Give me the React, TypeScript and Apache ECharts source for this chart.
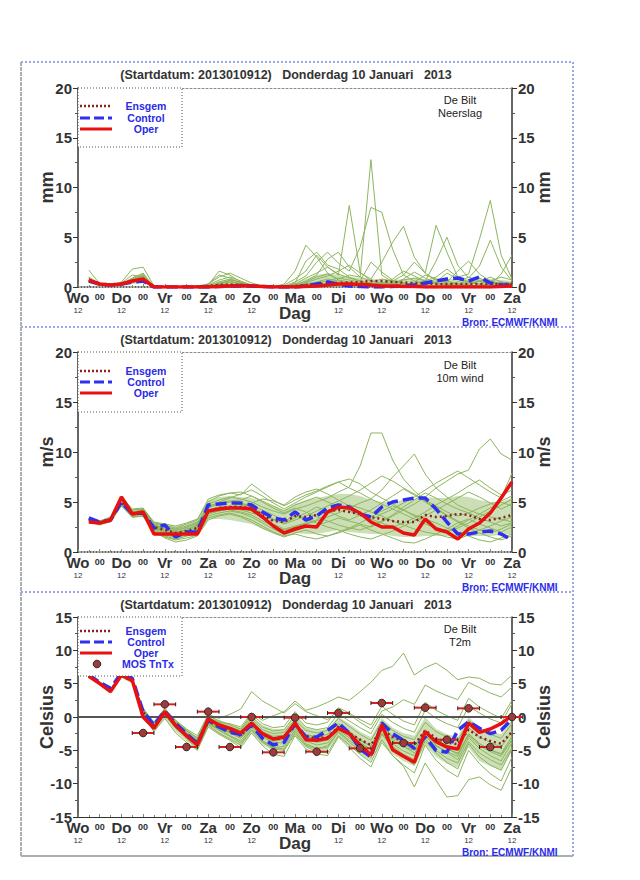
import React, { useEffect, useRef } from "react";
import * as echarts from "echarts";

// ---------- data ----------
const HOURS = [6,12,18,24,30,36,42,48,54,60,66,72,78,84,90,96,102,108,114,120,126,132,138,144,150,156,162,168,174,180,186,192,198,204,210,216,222,228,234,240];
const TICK_LABELS = ["Wo","00","Do","00","Vr","00","Za","00","Zo","00","Ma","00","Di","00","Wo","00","Do","00","Vr","00","Za"];
const SUB_LABELS = ["12","","12","","12","","12","","12","","","","12","","12","","12","","12","","12"];

// Precipitation (mm)
const PRECIP_OPER = [0.7,0.3,0.2,0.3, 0.6,0.8,0,0, 0,0,0,0, 0.05,0.1,0.15,0.1, 0.05,0,0,0, 0.05,0.1,0.2,0.3, 0.3,0.25,0.2,0.1, 0.1,0.05,0.05,0, 0,0,0,0, 0,0,0.05,0.1];
const PRECIP_CTRL = [0.6,0.3,0.2,0.3, 0.5,0.6,0,0, 0,0,0,0, 0.05,0.1,0.1,0.1, 0.05,0,0,0, 0.1,0.3,0.5,0.3, 0.1,0.05,0,0, 0.05,0.1,0.2,0.4, 0.6,0.8,0.9,0.6, 1.0,0.4,0.2,0.2];
const PRECIP_MEAN = [0.7,0.3,0.2,0.3, 0.6,0.7,0.05,0, 0,0,0.05,0.1, 0.2,0.25,0.2,0.1, 0.05,0.05,0.05,0.1, 0.2,0.3,0.35,0.4, 0.45,0.5,0.6,0.6, 0.5,0.45,0.4,0.35, 0.3,0.3,0.3,0.3, 0.3,0.3,0.3,0.3];
const PRECIP_MEMBERS = [
  [0.8,0.2,0.1,0.3, 0.9,1.4,0,0, 0,0,0,0.1, 0.4,0.6,0.3,0.1, 0,0,0,0.2, 0.5,1.0,1.3,0.8, 1.2,1.0,12.8,1.2, 0.5,0.3,0.2,0.4, 0.8,0.6,0.3,0.2, 0.1,0.3,0.5,0.4],
  [1.7,0.3,0.2,0.4, 1.2,1.0,0,0, 0,0,0.1,0.3, 1.0,1.4,0.9,0.4, 0.1,0,0.2,0.8, 1.6,3.2,2.0,1.2, 8.2,1.5,0.6,0.4, 0.3,0.8,1.5,0.9, 0.4,0.2,0.1,0.2, 0.6,1.0,0.5,0.3],
  [0.6,0.2,0.2,0.5, 1.8,2.0,0.1,0, 0,0,0,0.2, 0.7,1.0,0.6,0.2, 0,0,0.1,0.5, 1.1,2.5,3.5,2.4, 1.6,4.0,8.0,7.5, 3.8,1.2,0.6,0.4, 0.3,0.2,0.5,1.0, 0.6,0.3,0.2,0.1],
  [0.7,0.2,0.1,0.2, 0.6,1.1,0,0, 0,0,0,0, 0.3,0.5,0.3,0.1, 0,0,0,0.1, 0.4,0.8,1.1,1.6, 2.2,1.4,0.8,2.5, 4.5,6.1,3.0,1.4, 0.7,0.4,0.3,0.6, 0.9,0.4,0.2,0.1],
  [0.9,0.3,0.1,0.3, 0.8,1.3,0,0, 0,0,0,0.2, 1.6,1.2,0.5,0.2, 0,0,0,0.3, 0.9,1.4,2.0,1.3, 0.9,0.6,0.4,0.3, 0.6,1.2,2.5,1.4, 6.2,3.5,1.0,0.5, 0.3,0.6,1.0,0.7],
  [0.5,0.2,0.1,0.2, 0.5,0.8,0,0, 0,0,0,0, 0.2,0.3,0.2,0, 0,0,0,0.1, 0.3,0.5,0.8,0.6, 0.4,0.3,0.5,0.8, 0.6,0.4,0.3,0.6, 1.0,1.8,1.0,1.3, 4.8,8.7,3.2,0.8],
  [1.0,0.3,0.2,0.3, 0.7,1.1,0,0, 0,0,0,0.1, 0.5,0.8,0.4,0.1, 0,0,0.3,1.6, 4.2,3.0,1.4,0.7, 0.5,0.3,0.2,0.4, 0.3,0.2,0.5,1.2, 0.8,0.5,1.6,2.6, 1.3,0.6,0.3,0.2],
  [0.6,0.2,0.1,0.2, 0.6,0.9,0,0, 0,0,0,0.1, 0.3,0.7,0.5,0.2, 0,0,0,0.2, 0.6,1.2,2.8,3.5, 2.0,1.0,0.6,0.4, 0.8,1.6,1.1,0.6, 2.6,5.0,2.2,0.9, 2.1,4.7,2.0,0.6],
  [0.8,0.2,0.1,0.3, 0.7,1.2,0,0, 0,0,0,0.3, 1.2,0.9,0.4,0.1, 0,0,0,0.4, 2.6,3.5,2.2,1.8, 1.0,0.6,2.5,1.5, 0.7,0.4,0.3,0.2, 0.5,1.4,0.8,0.5, 0.3,0.2,1.3,3.2],
  [0.6,0.2,0.1,0.2, 0.5,0.7,0,0, 0,0,0,0, 0.1,0.2,0.1,0, 0,0,0,0.1, 0.2,0.4,0.6,0.9, 0.7,0.5,0.3,0.2, 0.4,0.7,0.9,0.6, 0.4,0.3,0.2,0.4, 0.6,0.5,0.3,0.2],
];
const PRECIP_CORE_LOW = [0.4,0.1,0.1,0.1, 0.3,0.4,0,0, 0,0,0,0, 0,0,0,0, 0,0,0,0, 0,0,0,0, 0,0,0,0, 0,0,0,0, 0,0,0,0, 0,0,0,0];
const PRECIP_CORE_HIGH = [1.0,0.3,0.2,0.4, 0.9,1.2,0.05,0, 0,0,0,0.2, 0.6,0.8,0.5,0.2, 0.05,0.05,0.1,0.4, 0.8,1.2,1.4,1.2, 1.0,0.9,0.8,0.7, 0.7,0.8,0.9,0.8, 0.7,0.8,0.8,0.8, 0.8,0.8,0.7,0.6];

// 10m wind (m/s)
const WIND_OPER = [3.0,2.9,3.2,5.5, 3.8,4.0,1.8,1.8, 1.8,1.8,1.8,4.1, 4.3,4.4,4.4,4.3, 3.5,2.6,1.9,2.3, 2.6,2.5,4.0,4.5, 4.4,3.9,3.0,2.5, 2.5,1.9,1.7,3.3, 2.3,2.0,1.3,2.3, 2.9,3.9,5.4,7.0];
const WIND_CTRL = [3.4,3.0,3.2,5.0, 3.8,3.9,2.4,2.7, 1.5,2.0,2.0,4.7, 4.8,4.9,4.9,4.7, 4.0,3.4,3.2,4.0, 3.2,3.6,4.4,4.7, 4.5,3.8,3.5,4.5, 5.0,5.2,5.4,5.4, 4.3,3.0,1.8,1.8, 2.0,2.1,1.8,1.2];
const WIND_MEAN = [3.2,2.9,3.2,5.0, 3.8,3.9,2.5,2.2, 1.9,2.1,2.4,4.1, 4.4,4.5,4.5,4.4, 3.7,3.1,3.0,3.6, 3.5,3.7,4.1,4.2, 4.0,3.8,3.5,3.3, 3.1,3.0,3.0,3.7, 3.5,3.6,3.8,3.7, 3.3,3.2,3.4,3.7];
const WIND_MEMBERS = [
  [3.3,3.0,3.4,5.2, 4.0,4.2,2.8,2.6, 2.2,2.4,2.9,4.8, 5.2,5.5,5.3,5.0, 4.5,4.1,3.8,4.3, 4.6,5.0,5.4,6.0, 6.5,8.6,11.9,11.9, 9.2,7.3,6.1,5.2, 4.6,4.0,3.6,3.9, 4.4,4.8,5.1,5.6],
  [3.1,2.8,3.0,4.6, 3.5,3.6,2.0,1.6, 1.3,1.6,1.9,3.6, 3.9,4.1,3.9,3.5, 2.9,2.3,1.8,2.1, 2.5,2.7,3.0,3.4, 3.1,2.8,2.5,3.0, 3.6,4.2,4.8,5.5, 6.4,7.1,7.8,8.2, 10.3,11.3,9.8,9.2],
  [3.4,3.1,3.5,5.6, 4.3,4.4,3.0,2.8, 2.6,2.9,3.3,5.0, 5.6,5.9,5.7,6.8, 6.0,5.2,4.6,5.2, 5.7,6.1,6.6,7.0, 6.4,5.9,5.3,6.2, 7.5,8.6,9.8,7.8, 6.4,5.5,4.7,4.2, 3.8,3.5,3.3,3.0],
  [3.2,2.9,3.2,5.0, 3.7,3.9,2.3,1.9, 1.6,1.8,2.2,4.2, 4.5,4.6,4.4,4.1, 3.4,2.8,2.3,2.6, 2.9,3.2,3.8,4.3, 4.7,4.4,4.0,3.6, 3.1,2.7,2.3,2.0, 1.8,1.5,1.3,1.7, 2.2,2.6,3.1,3.5],
  [3.0,2.7,3.1,4.8, 3.6,3.8,2.5,2.2, 1.9,2.3,2.6,3.8, 4.1,4.3,4.6,4.9, 5.3,5.1,4.7,5.5, 6.0,6.3,5.8,5.2, 4.6,3.9,3.3,2.9, 2.5,2.9,3.4,4.0, 4.7,5.3,5.9,6.6, 7.2,6.4,5.7,6.2],
  [3.3,3.0,3.3,5.4, 4.1,4.0,2.1,1.4, 1.0,1.2,1.6,3.2, 3.6,3.8,3.5,3.0, 2.4,1.9,1.5,1.9, 2.2,1.8,1.6,2.0, 2.4,2.9,3.5,4.1, 4.6,4.2,3.7,3.3, 2.9,2.4,2.0,1.6, 1.2,1.0,1.4,1.8],
  [3.1,2.9,3.3,5.1, 3.9,4.3,2.7,2.4, 2.1,2.5,2.8,4.6, 4.9,5.1,5.2,5.6, 5.0,4.4,3.9,4.4, 4.0,3.5,3.1,2.7, 2.4,2.2,2.6,3.1, 3.7,4.5,5.2,5.9, 5.4,4.8,4.3,3.9, 3.4,3.0,2.6,2.9],
  [3.2,2.8,3.1,4.9, 3.8,3.7,2.2,1.7, 1.5,1.9,2.4,4.0, 4.3,4.5,4.8,4.5, 3.9,3.3,2.8,3.2, 3.6,4.1,4.6,5.1, 5.6,6.2,6.9,7.6, 7.1,6.4,5.8,5.1, 4.4,3.7,3.1,2.6, 2.2,1.9,2.3,2.8],
  [3.4,3.1,3.4,5.3, 4.0,4.1,2.6,2.3, 2.0,2.2,2.7,4.4, 4.8,5.0,4.9,4.6, 4.2,3.7,3.1,3.6, 3.3,2.9,2.5,2.2, 1.8,1.5,1.3,1.7, 2.1,2.6,3.1,3.6, 4.2,4.8,5.4,6.0, 5.5,4.9,4.3,4.8],
  [3.0,2.8,3.0,4.7, 3.5,3.6,1.9,1.5, 1.2,1.4,1.7,3.4, 3.7,3.9,3.6,3.2, 2.6,2.0,1.6,1.8, 1.5,1.3,1.6,1.9, 2.3,2.7,2.2,1.8, 1.4,1.0,0.9,1.3, 1.8,2.3,2.9,3.3, 2.8,2.4,2.0,2.5],
  [3.3,3.0,3.2,5.2, 3.9,3.9,2.4,2.0, 1.8,2.1,2.5,4.5, 5.0,5.4,5.8,6.2, 5.6,4.9,4.3,4.9, 5.5,6.0,6.5,7.0, 7.3,6.8,6.0,5.4, 4.8,4.2,3.6,3.0, 2.5,2.1,2.6,3.2, 3.8,4.4,5.0,4.6],
  [3.1,2.9,3.2,5.0, 3.7,3.9,2.6,2.5, 2.3,2.6,3.0,4.1, 4.4,4.2,4.0,3.7, 3.1,2.6,2.2,2.5, 2.8,3.1,3.5,3.9, 4.4,4.9,5.3,4.8, 4.3,3.8,3.3,2.8, 2.4,2.0,2.4,2.9, 3.5,4.1,4.7,5.3],
  [3.2,3.0,3.3,5.1, 3.8,4.0,2.4,2.1, 1.7,2.0,2.3,3.9, 4.1,4.4,4.2,3.9, 3.6,3.2,2.9,3.4, 3.9,4.5,4.1,3.6, 3.2,3.7,4.2,4.9, 5.6,6.3,5.7,5.0, 4.3,3.6,3.0,2.4, 1.9,1.5,1.2,1.6],
  [3.3,3.0,3.4,5.5, 4.2,4.3,2.9,2.7, 2.4,2.8,3.2,5.3, 5.7,5.9,6.0,5.6, 5.1,4.6,4.1,4.7, 5.1,5.5,5.0,4.6, 4.1,3.6,3.2,3.8, 4.3,4.9,5.5,6.2, 6.9,7.5,8.1,7.4, 6.7,6.0,5.4,7.9],
];
const WIND_CORE_LOW = [3.0,2.7,3.0,4.6, 3.4,3.5,1.9,1.5, 1.2,1.5,1.8,3.3, 3.3,3.2,3.0,2.8, 2.3,1.9,1.6,1.9, 1.8,1.8,2.0,2.2, 2.0,1.9,1.8,1.8, 1.6,1.5,1.5,1.6, 1.6,1.6,1.5,1.6, 1.6,1.6,1.7,1.8];
const WIND_CORE_HIGH = [3.4,3.1,3.5,5.6, 4.3,4.4,3.0,2.8, 2.6,2.8,3.2,5.2, 5.5,5.6,5.5,5.4, 5.0,4.6,4.2,4.8, 5.2,5.4,5.6,5.8, 5.8,5.6,5.2,5.0, 5.0,5.2,5.3,5.5, 5.4,5.4,5.6,5.5, 5.2,5.0,5.0,5.4];

// 2m temperature (Celsius)
const TEMP_OPER = [6.1,5.0,3.8,6.3, 5.5,0.0,-1.7,0.8, -1.3,-2.8,-4.2,-0.3, -1.2,-1.7,-2.4,-0.9, -2.5,-3.3,-3.0,-0.9, -3.4,-3.5,-3.2,-1.7, -2.5,-4.2,-5.7,-1.2, -4.9,-5.9,-6.8,-2.2, -3.7,-4.5,-4.8,-0.9, -2.3,-1.8,-1.0,0.2];
const TEMP_CTRL = [6.3,5.2,4.3,6.6, 5.8,0.8,-1.2,0.9, -1.0,-2.5,-4.0,-0.5, -1.5,-2.3,-2.6,-1.2, -3.2,-4.2,-3.8,-1.0, -3.0,-3.0,-2.0,-0.9, -2.4,-4.8,-6.0,-0.9, -2.5,-3.5,-4.7,-3.0, -5.0,-5.3,-2.0,-0.7, -1.7,-2.5,-2.0,-0.3];
const TEMP_MEAN = [6.2,5.1,4.0,6.2, 5.4,0.8,-1.3,0.6, -1.2,-2.7,-3.8,-0.6, -1.5,-2.1,-2.8,-1.0, -2.6,-3.3,-3.2,-1.2, -2.9,-3.2,-3.0,-1.5, -2.4,-3.4,-4.2,-1.8, -3.0,-3.6,-4.2,-2.0, -3.2,-3.8,-4.1,-1.9, -3.0,-3.6,-4.0,-2.2];
const TEMP_MEMBERS = [
  [6.2,5.2,4.1,6.5, 5.6,1.2,-0.8,1.3, -0.6,-2.0,-3.2,0.2, -0.6,-1.2,-1.8,0.4, -1.0,-1.6,-1.4,0.8, -0.9,-1.2,-0.8,1.4, 0.6,-0.4,-1.2,1.6, 0.4,-0.6,-1.2,2.2, 1.0,0.2,-0.5,2.8, 1.5,0.6,-0.2,2.5],
  [6.0,4.9,3.7,6.0, 5.2,0.3,-2.2,-0.2, -2.4,-3.8,-5.0,-1.5, -2.6,-3.5,-4.6,-2.4, -4.3,-5.6,-5.9,-2.8, -4.8,-5.5,-5.8,-3.0, -4.6,-6.2,-7.5,-3.8, -5.8,-7.2,-8.4,-4.2, -6.5,-8.0,-9.0,-5.0, -7.0,-8.5,-9.6,-6.0],
  [6.1,5.0,3.9,6.2, 5.4,0.9,-1.4,1.0, -1.0,-2.4,-3.6,-0.2, -0.8,-1.0,-1.5,0.6, -0.5,0.2,0.8,2.4, 1.0,1.5,2.2,3.0, 2.5,3.8,5.2,7.0, 7.6,9.6,6.3,7.4, 8.1,7.0,5.6,6.0, 5.8,5.0,4.8,6.3],
  [6.3,5.3,4.2,6.4, 5.5,1.0,-1.0,1.2, -0.5,-1.8,-2.8,0.4, -0.2,0.4,1.2,3.8, 2.4,1.5,0.6,2.0, 0.8,0.2,-0.4,1.0, 0.4,-0.8,-1.8,0.9, 1.5,2.6,1.9,4.8, 3.9,3.2,2.6,5.2, 4.4,3.6,3.0,4.5],
  [6.1,5.1,3.9,6.3, 5.4,0.5,-1.8,0.5, -1.5,-3.0,-4.4,-0.9, -1.8,-2.4,-3.2,-1.4, -3.0,-3.8,-3.9,-1.7, -3.6,-4.2,-3.9,-2.0, -3.1,-4.3,-5.4,-2.4, -4.0,-5.1,-5.8,-2.9, -4.4,-5.2,-5.9,-2.6, -4.0,-5.0,-5.6,-3.4],
  [6.2,5.0,3.8,6.1, 5.3,0.7,-1.3,0.6, -1.2,-2.6,-3.8,-0.4, -1.3,-1.9,-2.5,-0.7, -2.2,-2.9,-2.7,-0.8, -2.6,-3.0,-2.6,-1.0, -2.2,-3.4,-4.3,-1.4, -2.9,-3.8,-4.4,-1.9, -3.4,-4.2,-4.8,-1.6, -3.0,-3.8,-4.5,-2.2],
  [6.0,4.9,3.6,6.2, 5.5,1.1,-1.1,0.9, -0.9,-2.3,-3.4,-0.7, -1.9,-2.8,-3.6,-1.6, -3.5,-4.6,-4.8,-2.3, -4.2,-4.8,-4.3,-2.3, -3.8,-5.0,-6.1,-2.6, -4.6,-6.0,-7.2,-3.6, -5.4,-6.8,-7.8,-4.0, -6.0,-7.2,-8.0,-4.8],
  [6.3,5.2,4.0,6.4, 5.6,0.9,-1.5,0.7, -1.4,-2.9,-4.0,-0.5, -1.5,-2.2,-2.9,-1.1, -2.8,-3.6,-3.4,-1.4, -3.3,-3.8,-3.5,-1.8, -2.8,-3.9,-4.8,-2.0, -3.6,-4.5,-5.0,-2.5, -3.9,-4.8,-5.4,-2.8, -4.3,-5.2,-5.9,-3.3],
  [6.1,5.1,3.9,6.2, 5.3,0.6,-1.6,0.4, -1.6,-3.2,-4.8,-1.2, -2.4,-3.3,-4.2,-2.0, -3.8,-4.8,-5.0,-2.6, -4.4,-5.2,-5.4,-2.8, -4.2,-5.6,-6.8,-3.4, -5.8,-7.4,-10.5,-6.9, -9.5,-12.0,-11.8,-9.4, -9.0,-10.2,-11.0,-7.5],
  [6.2,5.1,4.0,6.3, 5.4,0.8,-1.2,0.9, -1.1,-2.5,-3.5,-0.3, -1.1,-1.7,-2.2,-0.3, -1.9,-2.5,-2.3,-0.4, -2.0,-2.4,-2.0,-0.2, -1.4,-2.6,-3.5,-0.6, -2.0,-2.9,-3.4,-0.8, -2.2,-3.0,-3.6,-0.5, -1.8,-2.6,-3.2,-1.0],
  [6.0,5.0,3.8,6.2, 5.4,0.4,-1.9,0.3, -1.7,-3.1,-4.2,-0.8, -1.7,-2.3,-3.0,-1.3, -2.6,-3.2,-3.1,-1.2, -2.9,-3.4,-3.0,-1.5, -2.6,-3.8,-4.9,-1.9, -3.4,-4.4,-5.4,-2.7, -4.2,-5.3,-6.4,-3.1, -4.7,-5.8,-6.6,-3.8],
  [6.2,5.1,4.1,6.4, 5.7,1.3,-0.9,1.2, -0.7,-2.1,-3.1,0.0, -0.9,-1.5,-2.0,0.1, -1.5,-2.1,-1.9,0.3, -1.5,-1.9,-1.6,0.5, -0.6,-1.6,-2.5,0.4, -0.8,-1.7,-2.3,1.0, -0.2,-1.0,-1.6,1.6, 0.6,-0.3,-0.9,2.0],
  [6.1,5.0,3.9,6.3, 5.5,0.8,-1.4,0.6, -1.2,-2.7,-3.9,-0.6, -1.4,-2.1,-2.8,-1.0, -2.4,-3.1,-2.9,-1.1, -2.8,-3.3,-3.1,-1.3, -2.4,-3.5,-4.4,-1.6, -3.1,-4.1,-4.9,-2.2, -3.7,-4.7,-5.6,-2.5, -4.0,-4.9,-5.5,-2.9],
  [6.3,5.2,3.9,6.3, 5.3,0.6,-1.7,0.4, -1.5,-3.0,-4.6,-1.0, -2.0,-2.9,-3.9,-1.9, -3.7,-4.6,-4.4,-2.0, -4.0,-4.7,-4.6,-2.2, -3.5,-4.6,-5.6,-2.6, -4.4,-5.6,-6.4,-3.3, -5.0,-6.2,-6.9,-3.7, -5.4,-6.4,-7.2,-4.6],
];
const TEMP_CORE_LOW = [5.9,4.8,3.6,5.9, 5.0,0.0,-2.2,-0.2, -2.2,-3.6,-5.0,-1.5, -2.6,-3.4,-4.4,-2.4, -4.2,-5.0,-5.0,-2.6, -4.6,-5.2,-5.0,-3.0, -4.4,-5.6,-6.6,-3.6, -5.6,-6.6,-7.4,-4.2, -6.0,-7.0,-7.6,-4.6, -6.6,-7.4,-8.0,-5.0];
const TEMP_CORE_HIGH = [6.4,5.3,4.3,6.6, 5.8,1.4,-0.6,1.3, -0.4,-1.8,-3.0,0.3, -0.4,-1.0,-1.6,0.0, -1.2,-1.8,-1.8,0.2, -1.6,-2.0,-1.8,0.0, -1.0,-2.2,-3.0,-0.2, -1.6,-2.4,-2.8,0.0, -1.8,-2.6,-3.0,0.0, -1.6,-2.2,-2.6,-0.4];

// MOS TnTx
const MOS_HOURS = [24,36,48,60,72,84,96,108,120,132,144,156,168,180,192,204,216,228,240];
const MOS_VALUES = [7.0,-2.4,1.9,-4.5,0.8,-4.5,0.0,-5.3,-0.1,-5.2,0.6,-4.7,2.1,-3.9,1.4,-3.4,1.3,-4.5,0.0];

// ---------- styling ----------
const FONT = "Liberation Sans, Arial, sans-serif";
const GREEN = "#8db55e";
const BAND = "rgba(141,181,94,0.45)";
const C_MEAN = "#8a2222";
const C_CTRL = "#2f2ff0";
const C_OPER = "#e81010";
const TEXT = "#333333";
const BLUE_TXT = "#2a2ae8";

const PANELS = [
  { top: 88, height: 199, min: 0, max: 20, name: "mm", info: "Neerslag", titleY: 75, infoY: 100,
    legBottom: 147, legYs: [106, 118, 129], bronY: 322, dottedAxis: true,
    oper: PRECIP_OPER, ctrl: PRECIP_CTRL, mean: PRECIP_MEAN, members: PRECIP_MEMBERS,
    coreLow: PRECIP_CORE_LOW, coreHigh: PRECIP_CORE_HIGH },
  { top: 352, height: 200, min: 0, max: 20, name: "m/s", info: "10m wind", titleY: 340, infoY: 365,
    legBottom: 412, legYs: [371, 382, 393], bronY: 587, dottedAxis: true,
    oper: WIND_OPER, ctrl: WIND_CTRL, mean: WIND_MEAN, members: WIND_MEMBERS,
    coreLow: WIND_CORE_LOW, coreHigh: WIND_CORE_HIGH },
  { top: 617, height: 200, min: -15, max: 15, name: "Celsius", info: "T2m", titleY: 605, infoY: 629,
    legBottom: 676, legYs: [631, 642, 653, 664], bronY: 852, dottedAxis: false,
    oper: TEMP_OPER, ctrl: TEMP_CTRL, mean: TEMP_MEAN, members: TEMP_MEMBERS,
    coreLow: TEMP_CORE_LOW, coreHigh: TEMP_CORE_HIGH },
];

const pairs = (arr: number[]) => HOURS.map((h, i) => [h, arr[i]]);

function buildOption() {
  const grid: any[] = [];
  const xAxis: any[] = [];
  const yAxis: any[] = [];
  const series: any[] = [];
  const graphic: any[] = [];

  const yBase = (p: any, i: number) => ({
    type: "value", gridIndex: i, min: p.min, max: p.max, interval: 5,
    axisLine: { show: true, onZero: false, lineStyle: { color: "#333", width: 1.5 } },
    axisTick: { show: true, length: 5, lineStyle: { color: "#333" } },
    minorTick: { show: true, splitNumber: 2, length: 3, lineStyle: { color: "#555" } },
    splitLine: { show: false },
    axisLabel: { fontFamily: FONT, fontSize: 15, fontWeight: "bold", color: TEXT, margin: 6 },
  });

  PANELS.forEach((p, i) => {
    grid.push({ left: 78, width: 434, top: p.top, height: p.height, containLabel: false });
    xAxis.push({
      type: "value", gridIndex: i, min: 0, max: 240, interval: 12, position: "bottom",
      axisLine: { onZero: false, lineStyle: { color: "#333", width: p.dottedAxis ? 1.5 : 1.2, type: p.dottedAxis ? [1, 2] : "solid" } },
      axisTick: { show: true, inside: true, length: 3, lineStyle: { color: "#6e9a50" } },
      minorTick: { show: true, splitNumber: 2, length: 2, lineStyle: { color: "#6e9a50" } },
      splitLine: { show: false },
      axisLabel: {
        margin: 3,
        formatter: (v: number) => {
          const k = Math.round(v / 12);
          const lab = TICK_LABELS[k];
          if (k % 2 === 0) {
            return SUB_LABELS[k] ? `{d|${lab}}\n{h|${SUB_LABELS[k]}}` : `{d|${lab}}`;
          }
          return `{z|${lab}}`;
        },
        rich: {
          d: { fontFamily: FONT, fontSize: 15, fontWeight: "bold", color: TEXT, lineHeight: 15 },
          z: { fontFamily: FONT, fontSize: 9, fontWeight: "bold", color: TEXT, lineHeight: 13 },
          h: { fontFamily: FONT, fontSize: 8, color: TEXT, lineHeight: 11 },
        },
      },
      name: "Dag", nameLocation: "middle", nameGap: 18, nameMoveOverlap: false,
      nameTextStyle: { fontFamily: FONT, fontSize: 17, fontWeight: "bold", color: TEXT },
    });
    yAxis.push({ ...yBase(p, i), position: "left" });
  });
  PANELS.forEach((p, i) => {
    xAxis.push({
      type: "value", gridIndex: i, min: 0, max: 240, position: "top",
      axisLine: { show: true, onZero: false, lineStyle: { color: "#8a8a8a", type: [2, 2], width: 1 } },
      axisTick: { show: false }, axisLabel: { show: false }, splitLine: { show: false },
    });
    yAxis.push({ ...yBase(p, i), position: "right" });
  });

  PANELS.forEach((p, i) => {
    // dense core of the ensemble (filled polygon between core low and high)
    series.push({
      type: "custom", name: `core${i}`, xAxisIndex: i, yAxisIndex: i, z: 1, silent: true,
      data: [[0, 0]], encode: { x: 0, y: 1 },
      renderItem: (_params: any, api: any) => {
        const pts: number[][] = [];
        HOURS.forEach((h, k) => pts.push(api.coord([h, p.coreHigh[k]])));
        for (let k = HOURS.length - 1; k >= 0; k--) pts.push(api.coord([HOURS[k], p.coreLow[k]]));
        return { type: "polygon", shape: { points: pts }, style: { fill: BAND } };
      },
    });
    p.members.forEach((m, j) => {
      series.push({
        type: "line", name: `member${i}_${j}`, xAxisIndex: i, yAxisIndex: i, data: pairs(m),
        symbol: "none", lineStyle: { color: GREEN, width: 1 }, z: 2, silent: true,
      });
    });
    if (i === 2) {
      series.push({
        type: "line", xAxisIndex: i, yAxisIndex: i, data: [[0, 0], [240, 0]], symbol: "none",
        lineStyle: { color: "#555", width: 2 }, z: 3, silent: true,
      });
    }
    series.push({
      type: "line", name: "Ensgem", xAxisIndex: i, yAxisIndex: i, data: pairs(p.mean), symbol: "none",
      lineStyle: { color: C_MEAN, width: 2.5, type: [2, 3] }, z: 4,
    });
    series.push({
      type: "line", name: "Control", xAxisIndex: i, yAxisIndex: i, data: pairs(p.ctrl), symbol: "none",
      lineStyle: { color: C_CTRL, width: 3.5, type: [11, 5] }, z: 5,
    });
    series.push({
      type: "line", name: "Oper", xAxisIndex: i, yAxisIndex: i, data: pairs(p.oper), symbol: "none",
      lineStyle: { color: C_OPER, width: 3.5 }, z: 6,
    });
  });

  series.push({
    type: "custom", name: "MOS TnTx", xAxisIndex: 2, yAxisIndex: 2, z: 8, clip: false,
    data: MOS_HOURS.map((h, i) => [h, MOS_VALUES[i]]),
    encode: { x: 0, y: 1 },
    renderItem: (_params: any, api: any) => {
      const t = api.value(0);
      const v = api.value(1);
      const c = api.coord([t, v]);
      const l = api.coord([t - 6, v]);
      const r = api.coord([t + 6, v]);
      return {
        type: "group",
        children: [
          { type: "line", shape: { x1: l[0], y1: l[1], x2: r[0], y2: r[1] }, style: { stroke: "#d82020", lineWidth: 2 } },
          { type: "line", shape: { x1: l[0], y1: l[1] - 2, x2: l[0], y2: l[1] + 2 }, style: { stroke: "#222", lineWidth: 1 } },
          { type: "line", shape: { x1: r[0], y1: r[1] - 2, x2: r[0], y2: r[1] + 2 }, style: { stroke: "#222", lineWidth: 1 } },
          { type: "circle", shape: { cx: c[0], cy: c[1], r: 3.8 }, style: { fill: "#a33a3a", stroke: "#2a2a2a", lineWidth: 1 } },
        ],
      };
    },
  });

  // frame
  const blueDot = { stroke: "#3a4ad8", lineWidth: 1, lineDash: [2, 2] };
  const grayLine = { stroke: "#a8b0b0", lineWidth: 2, lineDash: [4, 1] };
  graphic.push({ type: "line", shape: { x1: 21, y1: 62, x2: 573, y2: 62 }, style: blueDot, silent: true });
  graphic.push({ type: "line", shape: { x1: 21, y1: 327, x2: 573, y2: 327 }, style: blueDot, silent: true });
  graphic.push({ type: "line", shape: { x1: 21, y1: 592, x2: 573, y2: 592 }, style: blueDot, silent: true });
  graphic.push({ type: "line", shape: { x1: 573, y1: 62, x2: 573, y2: 856 }, style: blueDot, silent: true });
  graphic.push({ type: "line", shape: { x1: 21, y1: 62, x2: 21, y2: 856 }, style: grayLine, silent: true });
  graphic.push({ type: "line", shape: { x1: 21, y1: 856, x2: 573, y2: 856 }, style: { stroke: "#a8b0b0", lineWidth: 2 }, silent: true });

  PANELS.forEach((p, i) => {
    const midY = p.top + p.height / 2;
    // axis names, rotated
    graphic.push({
      type: "text", x: 47, y: midY, rotation: Math.PI / 2, silent: true,
      style: { text: p.name, fontFamily: FONT, fontSize: 18, fontWeight: "bold", fill: TEXT, align: "center", verticalAlign: "middle" },
    });
    graphic.push({
      type: "text", x: 544, y: midY, rotation: Math.PI / 2, silent: true,
      style: { text: p.name, fontFamily: FONT, fontSize: 18, fontWeight: "bold", fill: TEXT, align: "center", verticalAlign: "middle" },
    });
    graphic.push({
      type: "text", x: 286, y: p.titleY, silent: true,
      style: { text: "(Startdatum: 2013010912)   Donderdag 10 Januari   2013", fontFamily: FONT, fontSize: 12.5, fontWeight: "bold", fill: TEXT, align: "center", verticalAlign: "middle" },
    });
    graphic.push({
      type: "text", x: 460, y: p.infoY, silent: true,
      style: { text: "De Bilt", fontFamily: FONT, fontSize: 11, fill: "#222", align: "center", verticalAlign: "middle" },
    });
    graphic.push({
      type: "text", x: 460, y: p.infoY + 13, silent: true,
      style: { text: p.info, fontFamily: FONT, fontSize: 11, fill: "#222", align: "center", verticalAlign: "middle" },
    });
    graphic.push({
      type: "text", x: 462, y: p.bronY, silent: true,
      style: { text: "Bron: ECMWF/KNMI", fontFamily: FONT, fontSize: 10, fontWeight: "bold", fill: BLUE_TXT, align: "left", verticalAlign: "middle" },
    });
    // legend box
    graphic.push({
      type: "rect", shape: { x: 78, y: p.top, width: 104, height: p.legBottom - p.top }, silent: true,
      style: { fill: "#fff", stroke: "#4d5d4d", lineWidth: 1, lineDash: [1, 2] }, z: 50,
    });
    const items = [
      { label: "Ensgem", stroke: C_MEAN, dash: [2, 2], w: 2.5 },
      { label: "Control", stroke: C_CTRL, dash: [10, 4], w: 3 },
      { label: "Oper", stroke: C_OPER, dash: null, w: 3 },
    ];
    items.forEach((it, k) => {
      const y = p.legYs[k];
      graphic.push({
        type: "line", shape: { x1: 80, y1: y, x2: 112, y2: y }, silent: true, z: 51,
        style: { stroke: it.stroke, lineWidth: it.w, lineDash: it.dash || undefined },
      });
      graphic.push({
        type: "text", x: 146, y, silent: true, z: 51,
        style: { text: it.label, fontFamily: FONT, fontSize: 10.5, lineHeight: 10, fontWeight: "bold", fill: BLUE_TXT, align: "center", verticalAlign: "middle" },
      });
    });
    if (i === 2) {
      const y = p.legYs[3];
      graphic.push({
        type: "circle", shape: { cx: 97, cy: y, r: 3.8 }, silent: true, z: 51,
        style: { fill: "#a33a3a", stroke: "#2a2a2a", lineWidth: 1 },
      });
      graphic.push({
        type: "text", x: 148, y, silent: true, z: 51,
        style: { text: "MOS TnTx", fontFamily: FONT, fontSize: 10.5, lineHeight: 10, fontWeight: "bold", fill: BLUE_TXT, align: "center", verticalAlign: "middle" },
      });
    }
  });

  return {
    animation: false,
    backgroundColor: "#ffffff",
    textStyle: { fontFamily: FONT },
    grid, xAxis, yAxis, series, graphic,
  };
}

export default function App() {
  const ref = useRef<HTMLDivElement>(null);
  useEffect(() => {
    if (!ref.current) return;
    const chart = echarts.init(ref.current, null, { renderer: "svg" });
    chart.setOption(buildOption() as any);
    return () => chart.dispose();
  }, []);
  return (
    <div
      ref={ref}
      style={{ position: "absolute", left: 0, top: 0, width: 640, height: 880, background: "#fff" }}
    />
  );
}
